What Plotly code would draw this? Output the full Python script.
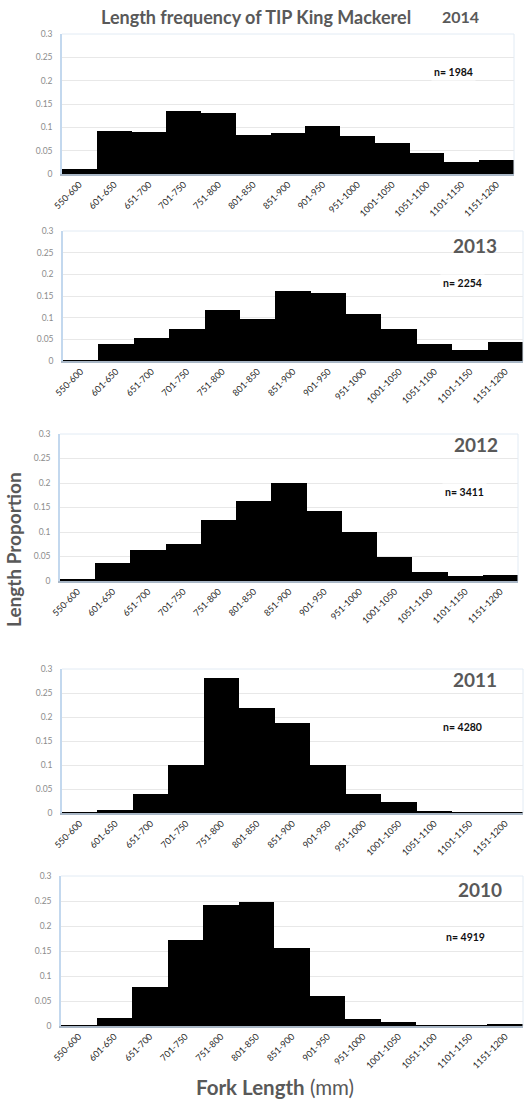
import plotly.graph_objects as go

W, H = 529, 1109

categories = ["550-600", "601-650", "651-700", "701-750", "751-800", "801-850",
              "851-900", "901-950", "951-1000", "1001-1050", "1051-1100",
              "1101-1150", "1151-1200"]

prop_2014 = [0.011, 0.093, 0.090, 0.136, 0.131, 0.084, 0.088, 0.102, 0.082, 0.067, 0.045, 0.026, 0.029]
prop_2013 = [0.001, 0.040, 0.052, 0.075, 0.117, 0.098, 0.162, 0.158, 0.108, 0.075, 0.039, 0.025, 0.044]
prop_2012 = [0.005, 0.037, 0.063, 0.075, 0.124, 0.164, 0.199, 0.142, 0.100, 0.050, 0.018, 0.0095, 0.0115]
prop_2011 = [0.0005, 0.007, 0.040, 0.100, 0.281, 0.219, 0.188, 0.099, 0.040, 0.022, 0.003, 0.001, 0.001]
prop_2010 = [0.0005, 0.016, 0.079, 0.172, 0.242, 0.249, 0.156, 0.060, 0.015, 0.009, 0.002, 0.002, 0.003]

years = ["2014", "2013", "2012", "2011", "2010"]
sample_sizes = ["1984", "2254", "3411", "4280", "4919"]
series = [prop_2014, prop_2013, prop_2012, prop_2011, prop_2010]

y_ticks = [0, 0.05, 0.1, 0.15, 0.2, 0.25, 0.3]
y_tick_text = ["0", "0.05", "0.1", "0.15", "0.2", "0.25", "0.3"]

# panel page-pixel boxes: (left, right, top, bottom)
panels = [(62, 514, 34, 174), (63, 523, 231, 361), (60, 518, 434, 581),
          (62, 523, 669, 813), (61, 523, 876, 1026)]
year_pos = [(460, 17), (475, 246), (476, 445), (475, 679), (480, 889)]
year_size = [16, 19, 19, 19, 19]
n_pos = [(453, 72), (462, 283), (464, 492), (462, 727), (465, 937)]

FONT = "Lato, Carlito, 'Open Sans', sans-serif"
GRAY = "#595959"

def fx(px):
    return px / W

def fy(py):
    return 1 - py / H

fig = go.Figure()
layout = dict(
    width=W, height=H, margin=dict(l=0, r=0, t=0, b=0, pad=0, autoexpand=False),
    paper_bgcolor="white", plot_bgcolor="white", showlegend=False,
    bargap=0, font=dict(family=FONT), annotations=[], shapes=[],
)

for i, (vals, box) in enumerate(zip(series, panels)):
    k = "" if i == 0 else str(i + 1)
    fig.add_trace(go.Bar(x=categories, y=vals, xaxis="x" + k, yaxis="y" + k,
                         marker=dict(color="black", line=dict(width=0)),
                         hoverinfo="x+y"))
    l, r, t, b = box
    layout["xaxis" + k] = dict(
        domain=[fx(l), fx(r)], anchor="y" + k, type="category",
        categoryorder="array", categoryarray=categories,
        range=[-0.5, 12.5], tickangle=-45, showgrid=False, automargin=False,
        tickfont=dict(size=9, color="#262626", family=FONT),
        showline=True, linecolor="#a9b7c6", linewidth=1.5, ticks="",
        zeroline=False, fixedrange=True,
    )
    layout["yaxis" + k] = dict(
        domain=[fy(b), fy(t)], anchor="x" + k, range=[0, 0.3], automargin=False,
        tickvals=y_ticks, ticktext=y_tick_text,
        tickfont=dict(size=8.5, color="#8c8c8c", family=FONT),
        showgrid=True, gridcolor="#e8e8e8", gridwidth=1,
        showline=True, linecolor="#c3d8ee", linewidth=1.5, ticks="",
        ticklabelstandoff=6, zeroline=False, fixedrange=True,
    )
    layout["shapes"].append(dict(type="line", xref="paper", yref="paper",
                                 x0=fx(l), x1=fx(r), y0=fy(t), y1=fy(t),
                                 line=dict(color="#e2ebf4", width=1)))
    layout["shapes"].append(dict(type="line", xref="paper", yref="paper",
                                 x0=fx(r), x1=fx(r), y0=fy(t), y1=fy(b),
                                 line=dict(color="#e2ebf4", width=1)))
    yx, yy = year_pos[i]
    layout["annotations"].append(dict(
        text="<b>%s</b>" % years[i], x=fx(yx), y=fy(yy), xref="paper", yref="paper",
        xanchor="center", yanchor="middle", showarrow=False,
        font=dict(size=year_size[i], color=GRAY, family=FONT)))
    nx, ny = n_pos[i]
    layout["annotations"].append(dict(
        text="<b>n= %s</b>" % sample_sizes[i], x=fx(nx), y=fy(ny), xref="paper", yref="paper",
        xanchor="center", yanchor="middle", showarrow=False, bgcolor="white",
        borderpad=2, font=dict(size=10.5, color="#111111", family=FONT)))

layout["annotations"].append(dict(
    text="<b>Length frequency of TIP King Mackerel</b>", x=fx(256), y=fy(17),
    xref="paper", yref="paper", xanchor="center", yanchor="middle", showarrow=False,
    font=dict(size=18, color=GRAY, family=FONT)))
layout["annotations"].append(dict(
    text="<b>Length Proportion</b>", x=fx(13), y=fy(550), textangle=-90,
    xref="paper", yref="paper", xanchor="center", yanchor="middle", showarrow=False,
    font=dict(size=19, color=GRAY, family=FONT)))
layout["annotations"].append(dict(
    text="<b>Fork Length</b> (mm)", x=fx(275), y=fy(1087),
    xref="paper", yref="paper", xanchor="center", yanchor="middle", showarrow=False,
    font=dict(size=20.5, color=GRAY, family=FONT)))

fig.update_layout(**layout)
fig.write_html("out.html", config={"displayModeBar": False},
               post_script="document.body.style.margin='0';document.body.style.overflow='hidden';")
